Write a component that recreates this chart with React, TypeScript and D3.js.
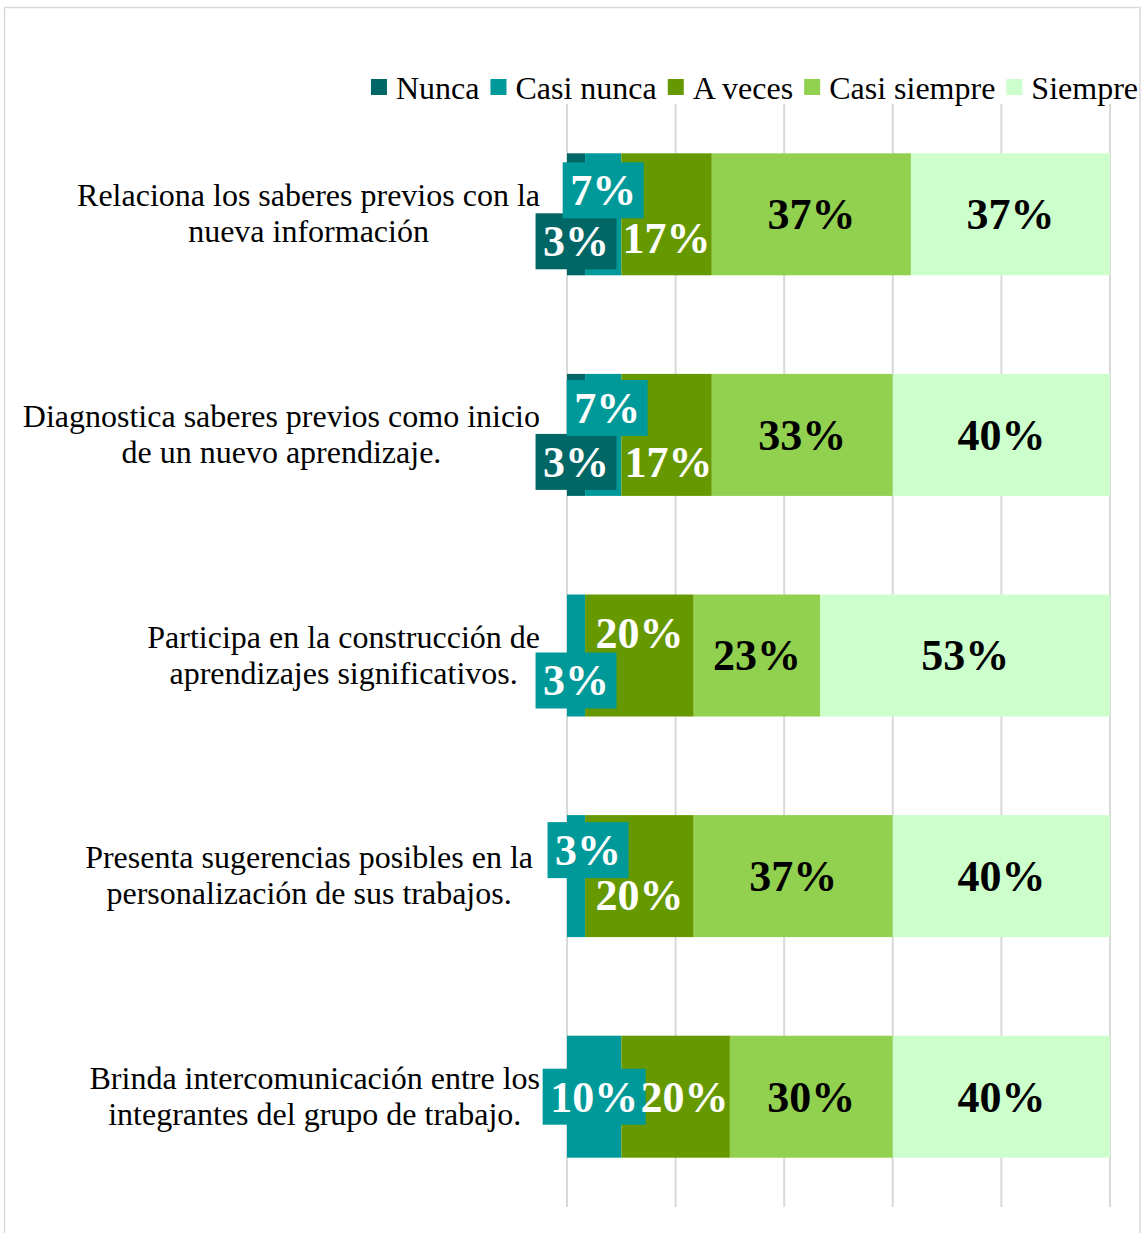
import React, { useEffect, useRef } from "react";
import * as d3 from "d3";

// wrapped category labels (as in the original chart)
const categories = [
  ["Relaciona los saberes previos con la", "nueva información"],
  ["Diagnostica saberes previos como inicio", "de un nuevo aprendizaje."],
  ["Participa en la construcción de", "aprendizajes significativos."],
  ["Presenta sugerencias posibles en la", "personalización de sus trabajos."],
  ["Brinda intercomunicación entre los", "integrantes del grupo de trabajo."],
];
const seriesNames = ["Nunca", "Casi nunca", "A veces", "Casi siempre", "Siempre"];
const nunca = [3.33, 3.33, 0, 0, 0];
const casiNunca = [6.67, 6.67, 3.33, 3.33, 10];
const aVeces = [16.67, 16.67, 20, 20, 20];
const casiSiempre = [36.67, 33.33, 23.33, 36.67, 30];
const siempre = [36.67, 40, 53.33, 40, 40];
const xTicks = [0, 20, 40, 60, 80, 100];

const colors = ["#006666", "#009999", "#669900", "#92D050", "#CCFFCC"];
const labelColors = ["#fff", "#fff", "#fff", "#000", "#000"];
const boxed = [true, true, false, false, false];

// manual nudges of the data labels (like Excel's moved labels) [dx, dy]
const labelShift = [
  [[0, 27], [0, -24], [0, 24], [0, 0], [0, 0]],
  [[0, 27], [4, -27], [2, 27], [0, 0], [0, 0]],
  [[0, 0], [0, 25], [0, -22], [0, 0], [0, 0]],
  [[0, 0], [12, -26], [0, 19], [0, 0], [0, 0]],
  [[0, 0], [0, 0], [9, 0], [0, 0], [0, 0]],
];
// row 4 label sits a bit left of the others in the original
const catShift = [0, 0, 0, -7, 0];

export default function App() {
  const svgRef = useRef(null);

  useEffect(() => {
    const H = 1233;
    const svg = d3.select(svgRef.current);
    svg.selectAll("*").remove();
    const font = "'Liberation Serif', 'Times New Roman', serif";

    const series = [nunca, casiNunca, aVeces, casiSiempre, siempre];
    const rows = categories.map((c, i) => {
      const r = { idx: i };
      seriesNames.forEach((s, j) => (r[s] = series[j][i]));
      return r;
    });
    const stacked = d3.stack().keys(seriesNames)(rows);

    const x = d3.scaleLinear().domain([0, 100]).range([567, 1110]);
    const y = d3
      .scaleBand()
      .domain(categories.map((_, i) => i))
      .range([104, 1207])
      .paddingInner(0.447)
      .paddingOuter(0.2235);

    // outer frame (bottom edge is cut off in the original)
    svg
      .append("rect")
      .attr("x", 4.5)
      .attr("y", 7.5)
      .attr("width", 1135.5)
      .attr("height", H + 10)
      .attr("fill", "#fff")
      .attr("stroke", "#d9d9d9")
      .attr("stroke-width", 1.5);

    // gridlines
    svg
      .append("g")
      .selectAll("line")
      .data(xTicks)
      .join("line")
      .attr("x1", (d) => x(d))
      .attr("x2", (d) => x(d))
      .attr("y1", 104)
      .attr("y2", 1207)
      .attr("stroke", "#d9d9d9")
      .attr("stroke-width", 2);

    // bars
    svg
      .append("g")
      .selectAll("g")
      .data(stacked)
      .join("g")
      .attr("fill", (d, j) => colors[j])
      .selectAll("rect")
      .data((d) => d)
      .join("rect")
      .attr("x", (d) => x(d[0]))
      .attr("width", (d) => x(d[1]) - x(d[0]))
      .attr("y", (d) => y(d.data.idx))
      .attr("height", y.bandwidth());

    // data labels
    const fs = 44;
    const lg = svg.append("g").attr("font-family", font).attr("font-weight", "bold").attr("font-size", fs);
    stacked.forEach((s, j) => {
      s.forEach((d, i) => {
        const v = d[1] - d[0];
        if (v <= 0) return;
        const [dx, dy] = labelShift[i][j];
        const cx = (x(d[0]) + x(d[1])) / 2 + dx;
        const cy = y(i) + y.bandwidth() / 2 + dy;
        const g = lg.append("g");
        const box = g.append("rect");
        const t = g
          .append("text")
          .attr("x", cx)
          .attr("y", cy + fs * 0.34)
          .attr("text-anchor", "middle")
          .attr("fill", labelColors[j])
          .text(`${Math.round(v)}%`);
        if (boxed[j]) {
          const w = t.node().getComputedTextLength() + 15;
          box
            .attr("x", cx - w / 2)
            .attr("y", cy - 28)
            .attr("width", w)
            .attr("height", 56)
            .attr("fill", colors[j]);
        } else box.remove();
      });
    });

    // category labels
    const cfs = 32;
    const cg = svg.append("g").attr("font-family", font).attr("font-size", cfs).attr("fill", "#000");
    categories.forEach((lines, i) => {
      const cy = y(i) + y.bandwidth() / 2;
      const texts = lines.map((l, k) =>
        cg
          .append("text")
          .attr("y", cy + (k === 0 ? -8 : 28))
          .attr("text-anchor", "middle")
          .text(l)
      );
      const maxW = d3.max(texts, (t) => t.node().getComputedTextLength());
      texts.forEach((t) => t.attr("x", 540 + catShift[i] - maxW / 2));
    });

    // legend, right aligned
    const leg = svg.append("g").attr("font-family", font).attr("font-size", 32);
    const items = seriesNames.map((n, j) => {
      const g = leg.append("g");
      g.append("rect").attr("width", 16).attr("height", 16).attr("y", 79).attr("fill", colors[j]);
      const t = g.append("text").attr("x", 25).attr("y", 99).text(n);
      return { g, w: 25 + t.node().getComputedTextLength() };
    });
    const gap = 11;
    const total = d3.sum(items, (d) => d.w) + gap * (items.length - 1);
    let cur = 1138 - total;
    items.forEach((it) => {
      it.g.attr("transform", `translate(${cur},0)`);
      cur += it.w + gap;
    });
  }, []);

  return (
    <svg
      ref={svgRef}
      width={1142}
      height={1233}
      style={{ position: "absolute", left: 0, top: 0, background: "#fff" }}
    />
  );
}
